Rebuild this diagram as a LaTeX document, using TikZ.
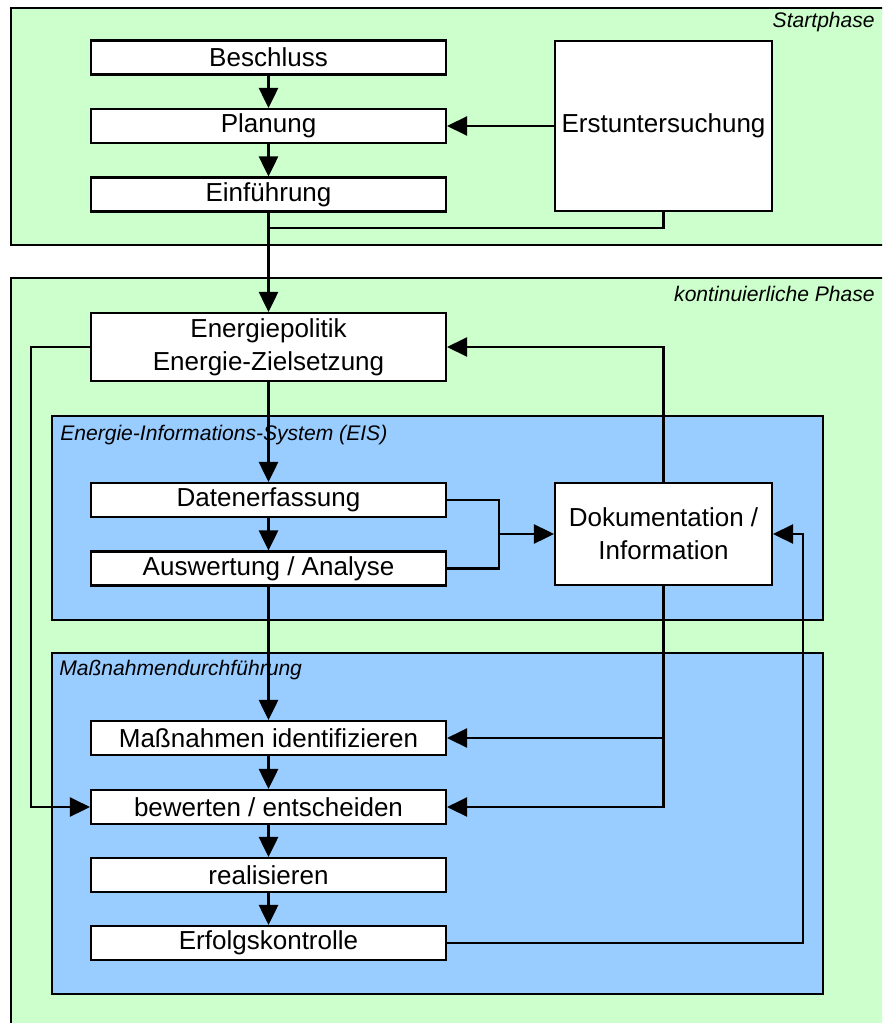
\documentclass[tikz,border=0pt]{standalone}
\usepackage{fontspec}
\setmainfont{Liberation Sans}
\usetikzlibrary{arrows.meta}
\definecolor{startgreen}{HTML}{CCFFCC}
\definecolor{eisblue}{HTML}{99CCFF}
\tikzset{
  stepbox/.style={draw, fill=white, line width=1.5pt, minimum width=8.875cm, minimum height=0.85cm,
    inner sep=0pt, font=\fontsize{18.5}{23.4}\selectfont, align=center},
  sidebox/.style={stepbox, minimum width=5.425cm},
  phase/.style={draw, line width=1.5pt},
  phaselabel/.style={inner sep=0pt, font=\fontsize{15}{18}\selectfont\itshape},
  flow/.style={line width=1.5pt, -{Triangle[length=0.5cm,width=0.48cm]}},
  link/.style={line width=1.5pt}
}
\begin{document}
\begin{tikzpicture}[x=0.025cm,y=-0.025cm]
\useasboundingbox (0,0) rectangle (882,1023);
\clip (0,0) rectangle (882,1023);

% Phasen und Bereiche
\filldraw[phase, fill=startgreen] (11,8) rectangle (884,245);
\filldraw[phase, fill=startgreen] (11,278) rectangle (884,1030);
\filldraw[phase, fill=eisblue] (52,416) rectangle (823,620);
\filldraw[phase, fill=eisblue] (52,653) rectangle (823,994);

\node[phaselabel, anchor=base east] (lstart) at (875,28) {Startphase};
\node[phaselabel, anchor=base east] (lkont) at (875,301) {kontinuierliche Phase};
\node[phaselabel, anchor=base west] (leis) at (60,440) {Energie-Informations-System (EIS)};
\node[phaselabel, anchor=base west] (lmass) at (59,675) {Maßnahmendurchführung};

% Startphase
\node[stepbox] (beschluss) at (268.5,57.5) {Beschluss};
\node[stepbox] (planung) at (268.5,126) {Planung};
\node[stepbox] (einf) at (268.5,194.5) {Einführung};
\node[sidebox, minimum height=4.25cm] (erst) at (663.5,126) {Erstuntersuchung};
\coordinate (join) at (268.5,228);

% kontinuierliche Phase
\node[stepbox, minimum height=1.7cm] (politik) at (268.5,347) {Energiepolitik\\Energie-Zielsetzung};
\node[stepbox] (daten) at (268.5,500) {Datenerfassung};
\node[stepbox] (auswert) at (268.5,568.5) {Auswertung / Analyse};
\node[sidebox, minimum height=2.55cm] (doku) at (663.5,534) {Dokumentation /\\Information};
\coordinate (merge) at (499,534);

\node[stepbox] (ident) at (268.5,738) {Maßnahmen identifizieren};
\node[stepbox] (bewert) at (268.5,807) {bewerten / entscheiden};
\node[stepbox] (real) at (268.5,875) {realisieren};
\node[stepbox] (erfolg) at (268.5,943) {Erfolgskontrolle};

% Verbindungen
\draw[flow] (beschluss) -- (planung);
\draw[flow] (planung) -- (einf);
\draw[flow] (erst) -- (planung);
\draw[link] (erst.south) |- (join);
\draw[flow] (einf) -- (politik);
\draw[flow] (politik.west) -- ++(-59,0) |- (bewert.west);
\draw[flow] (politik) -- (daten);
\draw[flow] (daten) -- (auswert);
\draw[link] (daten.east) -| (merge) |- (auswert.east);
\draw[flow] (merge) -- (doku.west);
\draw[flow] (doku.north) |- (politik.east);
\draw[flow] (doku.south) |- (ident.east);
\draw[flow] (doku.south) |- (bewert.east);
\draw[flow] (auswert) -- (ident);
\draw[flow] (ident) -- (bewert);
\draw[flow] (bewert) -- (real);
\draw[flow] (real) -- (erfolg);
\draw[flow] (erfolg.east) -| ([xshift=0.75cm]doku.east) -- (doku.east);
\end{tikzpicture}
\end{document}
